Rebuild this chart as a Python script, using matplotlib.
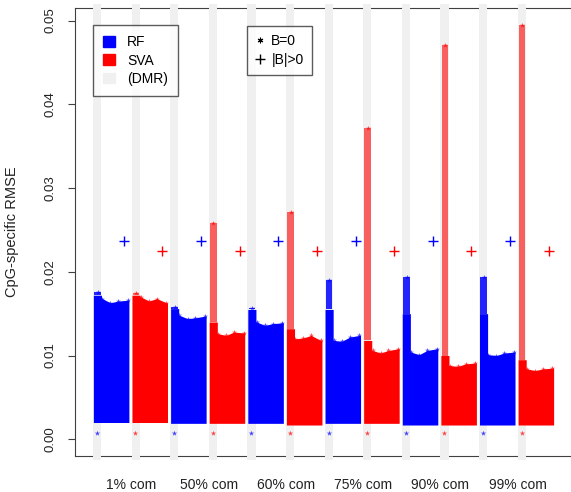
import matplotlib.pyplot as plt
from matplotlib.patches import Patch
from matplotlib.lines import Line2D

plt.rcParams['font.family'] = ['Liberation Sans', 'DejaVu Sans']

settings = ["1% com", "50% com", "60% com", "75% com", "90% com", "99% com"]
methods = ["RF", "SVA"]

# one entry per group, left to right: RF, SVA, RF, SVA, ...
cloud_low = [0.0020, 0.0020, 0.0019, 0.0019, 0.0019, 0.0017,
             0.0019, 0.0019, 0.0017, 0.0017, 0.0017, 0.0017]
# dense part of the DMR column
band_top = [0.0172, 0.0172, 0.0156, 0.0140, 0.0155, 0.0132,
            0.0155, 0.0118, 0.0150, 0.0100, 0.0150, 0.0095]
# highest DMR CpG
peak_top = [0.0176, 0.0175, 0.0158, 0.0258, 0.0157, 0.0271,
            0.0190, 0.0372, 0.0194, 0.0471, 0.0194, 0.0495]
# top of the non-DMR cloud, read at four spots across each group
main_top = [[0.0168, 0.0163, 0.0165, 0.0166],
            [0.0170, 0.0165, 0.0168, 0.0163],
            [0.0148, 0.0144, 0.0145, 0.0147],
            [0.0126, 0.0124, 0.0128, 0.0127],
            [0.0140, 0.0136, 0.0138, 0.0139],
            [0.0120, 0.0121, 0.0124, 0.0118],
            [0.0118, 0.0117, 0.0122, 0.0124],
            [0.0106, 0.0103, 0.0106, 0.0108],
            [0.0104, 0.0101, 0.0106, 0.0108],
            [0.0088, 0.0087, 0.0090, 0.0091],
            [0.0101, 0.0100, 0.0103, 0.0104],
            [0.0084, 0.0082, 0.0084, 0.0085]]
plus_high = [0.0237, 0.0225] * 6
star_low = [0.0008, 0.0007] * 6

colors = {"RF": "#0000ff", "SVA": "#ff0000"}
prof_u = [0.24, 0.45, 0.65, 0.90]

fig = plt.figure(figsize=(5.71, 4.92), dpi=100)
ax = fig.add_axes([75/571, 36/492, 1 - 75/571, 448/492])
ax.set_xlim(-0.466, 12.38)
ax.set_ylim(-0.0020, 0.0515)

for g in range(12):
    ax.axvspan(g, g + 0.21, ymin=-0.01, ymax=1.01, color='#f0f0f0', lw=0,
               zorder=3, clip_on=False)

for g in range(12):
    c = colors[methods[g % 2]]
    lo = cloud_low[g]
    # DMR column + non-DMR cloud as one outline
    xs = [g + 0.01, g + 0.22, g + 0.22] + [g + u for u in prof_u] + [g + 0.93]
    ys = [band_top[g], band_top[g], main_top[g][0]] + main_top[g] + [main_top[g][-1]]
    ax.fill_between(xs, lo, ys, color=c, lw=0, zorder=4)
    if peak_top[g] > band_top[g]:
        a = 0.85 if g % 2 == 0 else 0.6
        ax.fill_between([g + 0.03, g + 0.20], band_top[g], peak_top[g],
                        color=c, alpha=a, lw=0, zorder=4)
    ax.scatter([g + u for u in prof_u], main_top[g], marker='*', s=14,
               color=c, alpha=0.7, lw=0, zorder=5)
    ax.scatter([g + 0.12], [peak_top[g]], marker='*', s=14, color=c,
               alpha=0.7, lw=0, zorder=5)
    ax.scatter([g + 0.8], [plus_high[g]], marker='+', s=45, color=c,
               lw=1, zorder=5)
    ax.scatter([g + 0.1], [star_low[g]], marker='*', s=16, color=c,
               alpha=0.7, lw=0, zorder=5)

for s in ['left', 'bottom', 'top']:
    ax.spines[s].set_color('#404040')
ax.spines['right'].set_visible(False)

ax.set_yticks([0, 0.01, 0.02, 0.03, 0.04, 0.05])
ax.set_yticklabels(["0.00", "0.01", "0.02", "0.03", "0.04", "0.05"],
                   rotation=90, va='center', fontsize=9.5, color='#222222')
ax.tick_params(axis='y', length=5, pad=8, color='#404040')
ax.set_xticks([1, 3, 5, 7, 9, 11])
ax.set_xticklabels(settings, fontsize=10, color='#222222')
ax.tick_params(axis='x', length=0, pad=16)
fig.text(12/571, 1 - 232/492, "CpG-specific RMSE", rotation=90,
         ha='center', va='center', fontsize=10.5, color='#222222')

h1 = [Patch(color=colors["RF"]), Patch(color=colors["SVA"]), Patch(color='#f0f0f0')]
leg1 = ax.legend(h1, ["RF", "SVA", "(DMR)"], loc='upper left',
                 bbox_to_anchor=((93 - 75)/496, (456 - 25)/448), borderaxespad=0,
                 fontsize=10, frameon=True, fancybox=False, edgecolor='#333333',
                 handlelength=0.8, handleheight=0.8, handletextpad=0.9,
                 labelspacing=0.3, borderpad=0.75)
leg1.get_frame().set_linewidth(1)
leg1.set_zorder(10)
ax.add_artist(leg1)

h2 = [Line2D([], [], ls='', marker=(6, 2, 0), ms=4, color='black', mew=0.8),
      Line2D([], [], ls='', marker='+', ms=7, color='black', mew=1)]
leg2 = ax.legend(h2, ["B=0", "|B|>0"], loc='upper left',
                 bbox_to_anchor=((247 - 75)/496, (456 - 26)/448), borderaxespad=0,
                 fontsize=10, frameon=True, fancybox=False, edgecolor='#333333',
                 handlelength=0.7, handletextpad=0.45, labelspacing=0.3,
                 borderpad=0.6)
leg2.get_frame().set_linewidth(1)
leg2.set_zorder(10)

fig.savefig('out.png', dpi=100)
